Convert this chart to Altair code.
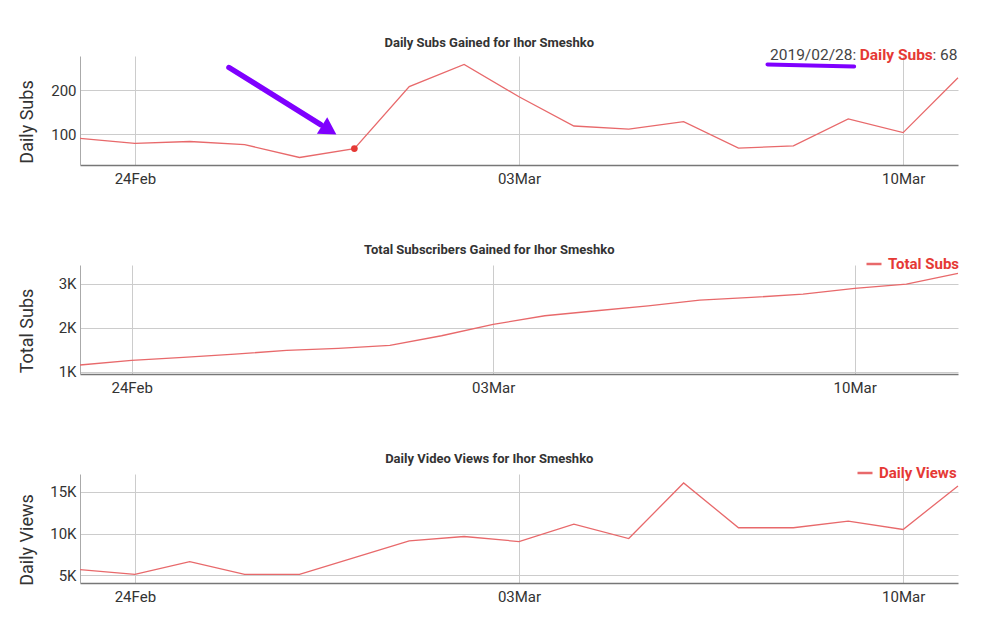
import altair as alt
import pandas as pd

# ---------------- data ----------------
dates_daily = ["2019-02-23", "2019-02-24", "2019-02-25", "2019-02-26", "2019-02-27",
               "2019-02-28", "2019-03-01", "2019-03-02", "2019-03-03", "2019-03-04",
               "2019-03-05", "2019-03-06", "2019-03-07", "2019-03-08", "2019-03-09",
               "2019-03-10", "2019-03-11"]
dates_total = dates_daily + ["2019-03-12"]

daily_subs = [91, 80, 84, 77, 48, 68, 208, 258, 185, 119, 112, 129, 69, 74, 135, 104, 228]
total_subs = [1153, 1257, 1326, 1402, 1486, 1531, 1600, 1820, 2078, 2276, 2390, 2503,
              2633, 2693, 2770, 2898, 2998, 3240]
daily_views = [5670, 5110, 6630, 5110, 5110, 7120, 9120, 9640, 9040, 11130, 9400, 16050,
               10690, 10690, 11490, 10480, 15690]

highlight_date = "2019-02-28"
highlight_label = "2019/02/28"
highlight_value = 68

# hand-drawn annotation (in data units)
arrow_tail = ["2019-02-25T17:10:00", 251]
arrow_base = ["2019-02-27T09:15:00", 122]
arrow_head = ["2019-02-27T13:00:00", 110]
underline_start = ["2019-03-07T12:40:00", 258]
underline_end = ["2019-03-09T02:35:00", 253.5]

LINE = "#e8696b"
RED = "#e53935"
PURPLE = "#7f00ff"
TXT = "#333333"
GRID = "#cccccc"
W, H = 878, 109


def ts(d):
    return pd.to_datetime(d)


df1 = pd.DataFrame({"date": [ts(d) for d in dates_daily], "value": daily_subs})
df2 = pd.DataFrame({"date": [ts(d) for d in dates_total], "value": total_subs,
                    "series": "Total Subs"})
df3 = pd.DataFrame({"date": [ts(d) for d in dates_daily], "value": daily_views,
                    "series": "Daily Views"})

tick_dates = [alt.DateTime(year=2019, month=2, date=24),
              alt.DateTime(year=2019, month=3, date=3),
              alt.DateTime(year=2019, month=3, date=10)]

x_axis = alt.Axis(values=tick_dates, format="%d%b", title=None, grid=True,
                  gridColor=GRID, ticks=False, labelFontSize=15, labelColor=TXT,
                  labelPadding=6, domainColor="#777777", domainWidth=1.5,
                  labelFlush=False)


def y_axis(title, values, expr=None):
    kw = dict(values=values, title=title, grid=True, gridColor=GRID, ticks=False,
              labelFontSize=15, labelColor=TXT, labelPadding=4, domainColor="#aaaaaa",
              titleFontSize=18, titleFontWeight="normal", titleColor=TXT,
              titleX=-48, titleY=H / 2 + 11, titleBaseline="alphabetic",
              titleAngle=270, titleAlign="center")
    if expr:
        kw["labelExpr"] = expr
    return alt.Axis(**kw)


def title(text):
    return alt.TitleParams(text, fontSize=13, fontWeight="bold", color=TXT,
                           anchor="middle", frame="bounds", offset=-2)


kexpr = "format(datum.value / 1000, '~g') + 'K'"

# ---------- panel 1 ----------
x1 = alt.X("date:T", axis=x_axis, scale=alt.Scale(nice=False))
y1 = alt.Y("value:Q", axis=y_axis("Daily Subs", [100, 200]),
           scale=alt.Scale(domain=[31, 277], nice=False, zero=False))
line1 = alt.Chart(df1).mark_line(color=LINE, strokeWidth=1.3).encode(x=x1, y=y1)

hl = pd.DataFrame({"date": [ts(highlight_date)], "value": [highlight_value],
                   "t1": [highlight_label + ":"], "t2": ["Daily Subs"],
                   "t3": [": " + str(highlight_value)]})
dot = alt.Chart(hl).mark_point(filled=True, color=RED, size=45, opacity=1).encode(
    x="date:T", y="value:Q")
txt1 = alt.Chart(hl).mark_text(align="left", baseline="alphabetic", fontSize=15.5,
                               color="#444444").encode(
    x=alt.value(690), y=alt.value(4), text="t1:N")
txt2 = alt.Chart(hl).mark_text(align="left", baseline="alphabetic", fontSize=15.5,
                               fontWeight="bold", color=RED).encode(
    x=alt.value(779.7), y=alt.value(4), text="t2:N")
txt3 = alt.Chart(hl).mark_text(align="left", baseline="alphabetic", fontSize=15.5,
                               color="#444444").encode(
    x=alt.value(852.5), y=alt.value(4), text="t3:N")

ann = pd.DataFrame({
    "x": [ts(arrow_tail[0]), ts(underline_start[0])],
    "y": [arrow_tail[1], underline_start[1]],
    "x2": [ts(arrow_base[0]), ts(underline_end[0])],
    "y2": [arrow_base[1], underline_end[1]],
    "w": [5.5, 4.0],
})
ann_rules = alt.Chart(ann).mark_rule(color=PURPLE, strokeCap="round").encode(
    x="x:T", y="y:Q", x2="x2:T", y2="y2:Q",
    strokeWidth=alt.StrokeWidth("w:Q", scale=None))
head = pd.DataFrame({"x": [ts(arrow_head[0])], "y": [arrow_head[1]]})
ann_head = alt.Chart(head).mark_point(shape="triangle-right", filled=True, color=PURPLE,
                                      size=380, angle=32, opacity=1).encode(
    x="x:T", y="y:Q")

p1 = alt.layer(line1, ann_rules, ann_head, dot, txt1, txt2, txt3).properties(
    width=W, height=H, title=title("Daily Subs Gained for Ihor Smeshko"))


def legend(x, y):
    return alt.Legend(orient="none", legendX=x, legendY=y, title=None,
                      symbolType="stroke", symbolStrokeWidth=2.5, symbolSize=225,
                      symbolStrokeColor=RED, labelFontSize=15, labelFontWeight="bold",
                      labelColor=RED, padding=0, labelOffset=5)


# ---------- panel 2 ----------
p2 = alt.Chart(df2).mark_line(strokeWidth=1.3).encode(
    x=alt.X("date:T", axis=x_axis, scale=alt.Scale(nice=False)),
    y=alt.Y("value:Q", axis=y_axis("Total Subs", [1000, 2000, 3000], kexpr),
            scale=alt.Scale(domain=[948, 3433], nice=False, zero=False)),
    color=alt.Color("series:N", scale=alt.Scale(range=[LINE]), legend=legend(785, -10)),
).properties(width=W, height=H, title=title("Total Subscribers Gained for Ihor Smeshko"))

# ---------- panel 3 ----------
p3 = alt.Chart(df3).mark_line(strokeWidth=1.3).encode(
    x=alt.X("date:T", axis=x_axis, scale=alt.Scale(nice=False)),
    y=alt.Y("value:Q", axis=y_axis("Daily Views", [5000, 10000, 15000], kexpr),
            scale=alt.Scale(domain=[4080, 17120], nice=False, zero=False)),
    color=alt.Color("series:N", scale=alt.Scale(range=[LINE]), legend=legend(776, -10)),
).properties(width=W, height=H, title=title("Daily Video Views for Ihor Smeshko"))

chart = alt.vconcat(p1, p2, p3, spacing=100, bounds="flush").resolve_scale(
    color="independent", x="independent", y="independent"
).resolve_legend(color="independent").properties(
    padding={"left": 18, "top": 37, "right": 5, "bottom": 5},
    background="white",
).configure(font="Roboto").configure_view(stroke=None)

chart.save("out.html", embed_options={"renderer": "svg", "actions": False})
